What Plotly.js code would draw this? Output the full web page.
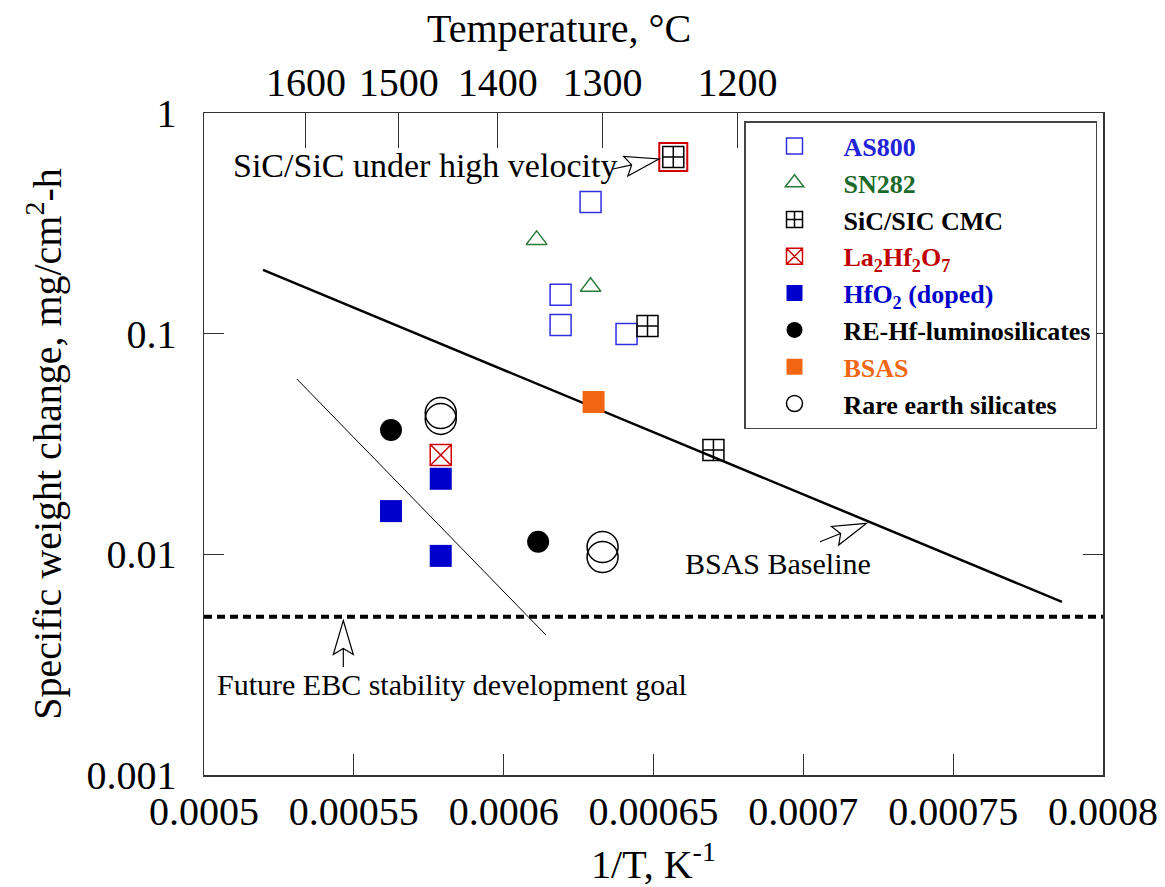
<!DOCTYPE html>
<html><head><meta charset="utf-8">
<script src="https://cdn.plot.ly/plotly-3.0.1.min.js"></script>
<style>body{margin:0;background:#fff}</style>
</head><body>
<div id="chart" style="width:1165px;height:887px"></div>
<script>
// ---- data ----
const as800X = [0.000629, 0.000619, 0.000619, 0.000641];
const as800Y = [0.395, 0.150, 0.1095, 0.0997];
const sn282X = [0.000611, 0.000629];
const sn282Y = [0.266, 0.163];
const cmcX = [0.0006566, 0.000648, 0.00067];
const cmcY = [0.632, 0.1083, 0.0297];
const laHfX = [0.000579];
const laHfY = [0.0282];
const highVelX = [0.0006566];
const highVelY = [0.632];
const hfo2X = [0.000579, 0.0005624, 0.000579];
const hfo2Y = [0.022, 0.0157, 0.00984];
const reHfX = [0.0005624, 0.0006115];
const reHfY = [0.0366, 0.0114];
const bsasX = [0.00063];
const bsasY = [0.049];
const reSilX = [0.000579, 0.000579, 0.000633, 0.000633];
const reSilY = [0.0437, 0.0411, 0.0108, 0.00973];
const baselineX = [0.0005197, 0.0007863];
const baselineY = [0.1944, 0.00609];
const trendX = [0.000531, 0.0006141];
const trendY = [0.0623, 0.00431];
const goalX = [0.0005, 0.0008];
const goalY = [0.00522, 0.00522];
const xTickVals = [0.0005, 0.00055, 0.0006, 0.00065, 0.0007, 0.00075, 0.0008];
const xTickText = ['0.0005', '0.00055', '0.0006', '0.00065', '0.0007', '0.00075', '0.0008'];
const yTickVals = [0.001, 0.01, 0.1, 1];
const yTickText = ['0.001', '0.01', '0.1', '1'];
const tempTickVals = [0.000534, 0.000565, 0.000598, 0.000633, 0.000678];
const tempTickText = ['1600', '1500', '1400', '1300', '1200'];

// ---- layout geometry ----
const W = 1165, H = 887, L = 204, R = 1103, T = 113, B = 775;
const px2x = p => (p - L) / (R - L);
const px2y = p => (B - p) / (B - T);
const SERIF = 'Liberation Serif, Times New Roman, serif';

function arrowPath(tail, tip, len = 34, half = 10, notch = 28) {
  const dx = tip[0] - tail[0], dy = tip[1] - tail[1];
  const Ln = Math.hypot(dx, dy), ux = dx / Ln, uy = dy / Ln, nx = -uy, ny = ux;
  const bc = [tip[0] - len * ux, tip[1] - len * uy];
  const b1 = [bc[0] + half * nx, bc[1] + half * ny];
  const b2 = [bc[0] - half * nx, bc[1] - half * ny];
  const nt = [tip[0] - notch * ux, tip[1] - notch * uy];
  const P = p => px2x(p[0]).toFixed(5) + ',' + px2y(p[1]).toFixed(5);
  return `M${P(tail)} L${P(nt)} M${P(tip)} L${P(b1)} L${P(nt)} L${P(b2)} Z`;
}
const arrowShape = (tail, tip) => ({
  type: 'path', xref: 'paper', yref: 'paper', path: arrowPath(tail, tip),
  line: {color: '#000', width: 1.2}, fillcolor: 'rgba(0,0,0,0)', layer: 'above'
});

const traces = [
  {x: goalX, y: goalY, mode: 'lines', line: {color: '#000', width: 4, dash: '8px,5px'}, showlegend: false, hoverinfo: 'skip'},
  {x: baselineX, y: baselineY, mode: 'lines', line: {color: '#000', width: 2.5}, showlegend: false, hoverinfo: 'skip'},
  {x: trendX, y: trendY, mode: 'lines', line: {color: '#000', width: 1}, showlegend: false, hoverinfo: 'skip'},
  {x: as800X, y: as800Y, mode: 'markers', name: '<span style="color:#2222d8">AS800</span>',
   marker: {symbol: 'square-open', size: 21, color: '#3030e0', line: {width: 1.5}}},
  {x: sn282X, y: sn282Y, mode: 'markers', name: '<span style="color:#1b6a2b">SN282</span>',
   marker: {symbol: 'triangle-up-open', size: 18, color: '#2a7a3a', line: {width: 1.5}}},
  {x: highVelX, y: highVelY, mode: 'markers', showlegend: false,
   marker: {symbol: 'square-open', size: 28, color: '#d00000', line: {width: 2}}},
  {x: cmcX, y: cmcY, mode: 'markers', name: 'SiC/SIC CMC',
   marker: {symbol: 'square-cross-open', size: 21, color: '#000', line: {width: 1.5}}},
  {x: laHfX, y: laHfY, mode: 'markers',
   name: '<span style="color:#c00000">La<sub>2</sub>Hf<sub>2</sub>O<sub>7</sub></span>',
   marker: {symbol: 'square-x-open', size: 21, color: '#d00000', line: {width: 1.5}}},
  {x: hfo2X, y: hfo2Y, mode: 'markers', name: '<span style="color:#0000cc">HfO<sub>2</sub> (doped)</span>',
   marker: {symbol: 'square', size: 22, color: '#0000cc'}},
  {x: reHfX, y: reHfY, mode: 'markers', name: 'RE-Hf-luminosilicates',
   marker: {symbol: 'circle', size: 22, color: '#000'}},
  {x: bsasX, y: bsasY, mode: 'markers', name: '<span style="color:#f06612">BSAS</span>',
   marker: {symbol: 'square', size: 22, color: '#f06612'}},
  {x: reSilX, y: reSilY, mode: 'markers', name: 'Rare earth silicates',
   marker: {symbol: 'circle-open', size: 31, color: '#000', line: {width: 1.5}}}
];

const axisFont = {family: SERIF, size: 40, color: '#000'};
const layout = {
  width: W, height: H, autosize: false,
  margin: {l: L, r: W - R, t: T, b: H - B, pad: 0},
  paper_bgcolor: '#fff', plot_bgcolor: '#fff',
  font: {family: SERIF, color: '#000'},
  showlegend: true,
  xaxis: {
    range: [0.0005, 0.0008], tickmode: 'array', tickvals: xTickVals, ticktext: xTickText,
    ticks: 'inside', ticklen: 21, tickwidth: 1, tickcolor: '#333',
    showline: true, linecolor: '#333', linewidth: 1.5, mirror: true,
    showgrid: false, zeroline: false, tickfont: axisFont, ticklabelstandoff: 0,
    title: {text: '1/T, K<sup>-1</sup>', font: axisFont, standoff: 32}
  },
  xaxis2: {
    overlaying: 'x', side: 'top', anchor: 'y', range: [0.0005, 0.0008],
    tickmode: 'array', tickvals: tempTickVals, ticktext: tempTickText,
    ticks: 'inside', ticklen: 35, tickwidth: 1, tickcolor: '#333',
    showline: false, showgrid: false, zeroline: false, tickfont: axisFont, ticklabelstandoff: 8
  },
  yaxis: {
    type: 'log', range: [-3, 0], tickmode: 'array', tickvals: yTickVals, ticktext: yTickText,
    ticks: 'inside', ticklen: 20, tickwidth: 1, tickcolor: '#333',
    showline: true, linecolor: '#333', linewidth: 1.5, mirror: 'ticks',
    showgrid: false, zeroline: false, tickfont: axisFont, ticklabelstandoff: 18,
    title: {text: 'Specific weight change, mg/cm<sup>2</sup>-h', font: axisFont, standoff: 12}
  },
  legend: {
    x: px2x(744), y: px2y(121), xanchor: 'left', yanchor: 'top',
    bgcolor: '#fff', bordercolor: '#444', borderwidth: 1.5,
    font: {family: SERIF, size: 26, color: '#000', weight: 'bold'},
    itemwidth: 88, tracegroupgap: 0
  },
  annotations: [
    {xref: 'paper', yref: 'paper', x: px2x(559), y: px2y(29), text: 'Temperature, °C', showarrow: false,
     xanchor: 'center', yanchor: 'middle', font: axisFont},
    {xref: 'paper', yref: 'paper', x: px2x(231), y: px2y(165), text: 'SiC/SiC under high velocity', showarrow: false,
     xanchor: 'left', yanchor: 'middle', font: {family: SERIF, size: 34, color: '#000'}},
    {xref: 'paper', yref: 'paper', x: px2x(778), y: px2y(563), text: 'BSAS Baseline', showarrow: false,
     xanchor: 'center', yanchor: 'middle', font: {family: SERIF, size: 30, color: '#000'}},
    {xref: 'paper', yref: 'paper', x: px2x(451.5), y: px2y(684), text: 'Future EBC stability development goal', showarrow: false,
     xanchor: 'center', yanchor: 'middle', font: {family: SERIF, size: 30, color: '#000'}}
  ],
  shapes: [
    arrowShape([613, 169], [659, 159]),
    arrowShape([820, 541.7], [866.7, 523.3]),
    arrowShape([343.3, 667], [343.3, 620.5])
  ]
};

// dummy trace to activate the top temperature axis
traces.push({x: [0.0005], y: [1], xaxis: 'x2', yaxis: 'y', mode: 'markers', marker: {opacity: 0}, showlegend: false, hoverinfo: 'skip'});

Plotly.newPlot('chart', traces, layout, {displayModeBar: false, staticPlot: true});
</script>
</body></html>
